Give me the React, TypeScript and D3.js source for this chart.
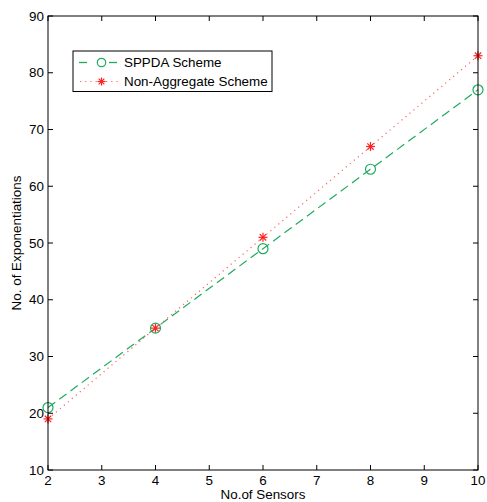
import React from "react";
import * as d3 from "d3";

const sensors = [2, 4, 6, 8, 10];
const sppda = [21, 35, 49, 63, 77];
const nonAggregate = [19, 35, 51, 67, 83];
const xTicks = [2, 3, 4, 5, 6, 7, 8, 9, 10];
const yTicks = [10, 20, 30, 40, 50, 60, 70, 80, 90];
const seriesNames = ["SPPDA Scheme", "Non-Aggregate Scheme"];

const W = 487;
const H = 502;
const M = { left: 48, right: 9, top: 16, bottom: 32 };
const GREEN = "#1faa5f";
const RED = "#ff2020";
const FONT = "'Liberation Sans', Arial, Helvetica, sans-serif";

function Asterisk({ x, y, r, color }: { x: number; y: number; r: number; color: string }) {
  const arms = [0, 45, 90, 135].map((a) => {
    const t = (a * Math.PI) / 180;
    return (
      <line
        key={a}
        x1={x - r * Math.cos(t)}
        y1={y - r * Math.sin(t)}
        x2={x + r * Math.cos(t)}
        y2={y + r * Math.sin(t)}
        stroke={color}
        strokeWidth={1.2}
      />
    );
  });
  return <g>{arms}</g>;
}

export default function App() {
  const x = d3.scaleLinear().domain([2, 10]).range([M.left, W - M.right]);
  const y = d3.scaleLinear().domain([10, 90]).range([H - M.bottom, M.top]);
  const line = d3
    .line<number>()
    .x((_, i) => x(sensors[i]))
    .y((d) => y(d));

  const x0 = x.range()[0];
  const x1 = x.range()[1];
  const y0 = y.range()[0];
  const y1 = y.range()[1];
  const tick = 5;

  const legX = 73;
  const legY = 51;
  const row1 = 62.5;
  const row2 = 81.5;

  return (
    <svg
      width={W}
      height={H}
      style={{ position: "absolute", left: 0, top: 0, background: "#fff" }}
      fontFamily={FONT}
    >
      <path d={line(sppda) ?? ""} fill="none" stroke={GREEN} strokeWidth={1.2} strokeDasharray="9 5" />
      <path d={line(nonAggregate) ?? ""} fill="none" stroke={RED} strokeOpacity={0.7} strokeWidth={1.2} strokeDasharray="1.2 4" />
      {sppda.map((v, i) => (
        <circle key={"c" + i} cx={x(sensors[i])} cy={y(v)} r={5} fill="none" stroke={GREEN} strokeWidth={1.2} />
      ))}
      {nonAggregate.map((v, i) => (
        <Asterisk key={"a" + i} x={x(sensors[i])} y={y(v)} r={4.5} color={RED} />
      ))}

      {/* axes box */}
      <rect x={x0} y={y1} width={x1 - x0} height={y0 - y1} fill="none" stroke="#000" strokeWidth={1} />
      {xTicks.map((t) => (
        <g key={"xt" + t}>
          <line x1={x(t)} x2={x(t)} y1={y0} y2={y0 - tick} stroke="#000" />
          <line x1={x(t)} x2={x(t)} y1={y1} y2={y1 + tick} stroke="#000" />
          <text x={x(t)} y={y0 + 15} textAnchor="middle" fontSize={13.4}>
            {t}
          </text>
        </g>
      ))}
      {yTicks.map((t) => (
        <g key={"yt" + t}>
          <line x1={x0} x2={x0 + tick} y1={y(t)} y2={y(t)} stroke="#000" />
          <line x1={x1} x2={x1 - tick} y1={y(t)} y2={y(t)} stroke="#000" />
          <text x={x0 - 4} y={y(t) + 4.5} textAnchor="end" fontSize={13.4}>
            {t}
          </text>
        </g>
      ))}

      <text x={(x0 + x1) / 2} y={H - 3} textAnchor="middle" fontSize={13.4}>
        No.of Sensors
      </text>
      <text
        transform={`translate(21,${(y0 + y1) / 2}) rotate(-90)`}
        textAnchor="middle"
        fontSize={13.4}
      >
        No. of Exponentiations
      </text>

      {/* legend */}
      <rect x={legX} y={legY} width={199} height={40.5} fill="#fff" stroke="#000" strokeWidth={1} />
      <line x1={79} x2={87} y1={row1} y2={row1} stroke={GREEN} strokeWidth={1.3} />
      <line x1={109} x2={117} y1={row1} y2={row1} stroke={GREEN} strokeWidth={1.3} />
      <circle cx={101.5} cy={row1} r={4.2} fill="none" stroke={GREEN} strokeWidth={1.2} />
      <line x1={80} x2={118} y1={row2} y2={row2} stroke={RED} strokeOpacity={0.7} strokeWidth={1.2} strokeDasharray="1.2 4" />
      <Asterisk x={101.5} y={row2} r={4} color={RED} />
      <text x={124} y={row1 + 4.8} fontSize={13.4}>
        {seriesNames[0]}
      </text>
      <text x={124} y={row2 + 4.8} fontSize={13.4}>
        {seriesNames[1]}
      </text>
    </svg>
  );
}
